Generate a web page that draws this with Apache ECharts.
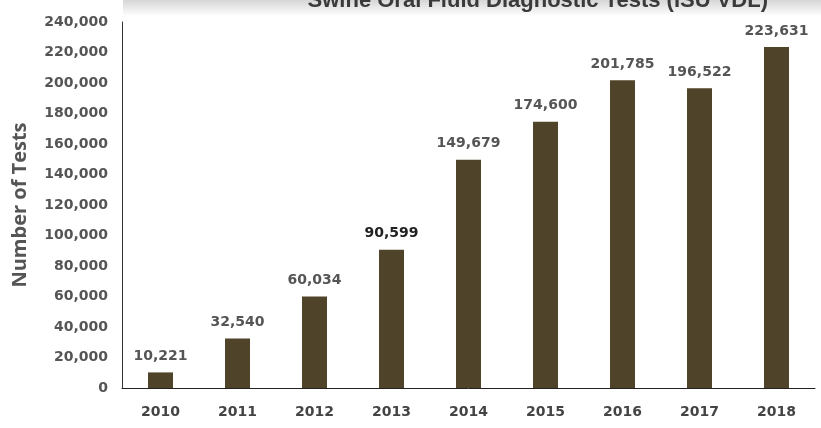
<!DOCTYPE html>
<html>
<head>
<meta charset="utf-8">
<script src="https://cdn.jsdelivr.net/npm/echarts@6/dist/echarts.min.js"></script>
<style>
  html, body { margin: 0; padding: 0; background: #fff; }
  #chart { width: 821px; height: 428px; }
</style>
</head>
<body>
<div id="chart"></div>
<script>
// Tests per year, ISU VDL
const years = ['2010', '2011', '2012', '2013', '2014', '2015', '2016', '2017', '2018'];
const testCounts = [10221, 32540, 60034, 90599, 149679, 174600, 201785, 196522, 223631];
const yTicks = [0, 20000, 40000, 60000, 80000, 100000, 120000, 140000, 160000, 180000, 200000, 220000, 240000];

const dom = document.getElementById('chart');
const myChart = echarts.init(dom);

const fmt = v => v.toLocaleString('en-US');

const option = {
    backgroundColor: '#fff',
    animation: false,
    title: {
        text: 'Swine Oral Fluid Diagnostic Tests (ISU VDL)',
        right: 48,
        top: -15,
        textStyle: {
            fontFamily: 'Liberation Sans',
            fontWeight: 'bold',
            fontSize: 22,
            color: '#3a3a3a'
        }
    },
    graphic: [{
        type: 'rect',
        z: -1,
        shape: { x: 123, y: 0, width: 698, height: 16 },
        style: {
            fill: new echarts.graphic.LinearGradient(0, 0, 0, 1, [
                { offset: 0, color: '#d6d6d6' },
                { offset: 1, color: '#ffffff' }
            ])
        }
    }],
    grid: {
        left: 122,
        right: 6,
        top: 22,
        bottom: 40
    },
    xAxis: {
        type: 'category',
        data: years,
        axisLine: { lineStyle: { color: '#222', width: 1 } },
        axisTick: { show: false },
        axisLabel: {
            margin: 17,
            fontFamily: 'DejaVu Sans',
            fontWeight: 'bold',
            fontSize: 14,
            color: '#444'
        }
    },
    yAxis: {
        type: 'value',
        min: yTicks[0],
        max: yTicks[yTicks.length - 1],
        interval: 20000,
        name: 'Number of Tests',
        nameLocation: 'middle',
        nameGap: 92,
        nameTextStyle: {
            fontFamily: 'Open Sans',
            fontWeight: 'bold',
            fontSize: 20,
            color: '#555'
        },
        axisLine: { show: true, lineStyle: { color: '#333', width: 1 } },
        axisTick: { show: false },
        splitLine: { show: false },
        axisLabel: {
            margin: 14,
            fontFamily: 'DejaVu Sans',
            fontWeight: 'bold',
            fontSize: 14,
            color: '#555',
            formatter: fmt
        }
    },
    series: [{
        name: 'Tests',
        type: 'bar',
        barWidth: 25,
        itemStyle: { color: '#4f4429' },
        label: {
            show: true,
            position: 'top',
            distance: 9,
            fontFamily: 'DejaVu Sans',
            fontWeight: 'bold',
            fontSize: 14,
            color: '#555',
            formatter: p => fmt(p.value)
        },
        data: testCounts.map((v, i) => i === 3
            ? { value: v, label: { color: '#222' } }
            : v)
    }]
};

myChart.setOption(option);
</script>
</body>
</html>
